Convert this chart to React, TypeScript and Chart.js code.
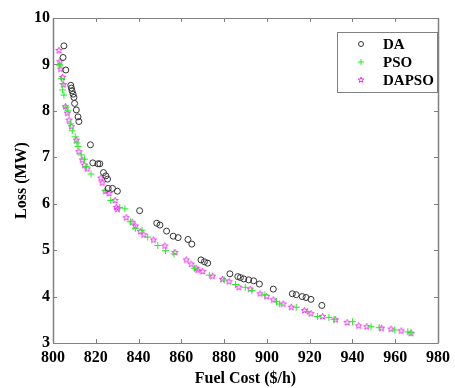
import React, { useEffect, useRef } from "react";
import { Chart, registerables } from "chart.js";

Chart.register(...registerables);

const X_TICKS = [800, 820, 840, 860, 880, 900, 920, 940, 960, 980];
const Y_TICKS = [3, 4, 5, 6, 7, 8, 9, 10];

const daCost = [805.1, 804.7, 806.0, 808.3, 808.6, 808.9, 809.4, 809.8, 810.1, 810.9, 811.7, 812.1, 817.5, 818.6, 821.0, 821.9, 823.6, 824.7, 825.5, 825.8, 827.8, 830.1, 840.5, 848.5, 850.0, 853.1, 856.2, 858.5, 863.1, 864.9, 869.2, 870.8, 872.3, 882.7, 886.4, 887.6, 889.2, 891.5, 893.8, 896.5, 903.0, 911.9, 913.7, 916.5, 918.3, 920.6, 925.7];
const daLoss = [9.40, 9.15, 8.88, 8.55, 8.49, 8.43, 8.36, 8.29, 8.16, 8.02, 7.87, 7.77, 7.27, 6.88, 6.86, 6.86, 6.67, 6.60, 6.53, 6.33, 6.33, 6.27, 5.85, 5.58, 5.54, 5.41, 5.30, 5.27, 5.23, 5.13, 4.79, 4.75, 4.72, 4.49, 4.43, 4.41, 4.38, 4.36, 4.34, 4.27, 4.16, 4.06, 4.04, 4.00, 3.98, 3.94, 3.81];

const psoCost = [802.9, 803.2, 804.0, 804.7, 804.5, 805.1, 806.0, 807.0, 808.1, 809.0, 810.4, 811.2, 811.7, 813.2, 814.7, 815.5, 817.8, 824.4, 827.0, 831.2, 833.6, 836.2, 838.5, 841.6, 844.3, 849.0, 852.6, 856.6, 866.2, 873.1, 880.0, 885.3, 889.9, 893.0, 899.1, 904.5, 906.0, 913.7, 919.1, 923.7, 929.0, 931.4, 940.0, 948.7, 952.5, 959.8, 965.9, 967.4];
const psoLoss = [9.00, 8.97, 8.70, 8.59, 8.45, 8.34, 8.08, 8.00, 7.72, 7.57, 7.44, 7.31, 7.23, 7.05, 6.96, 6.80, 6.64, 6.28, 6.07, 5.92, 5.89, 5.61, 5.47, 5.43, 5.28, 5.10, 4.99, 4.92, 4.61, 4.46, 4.36, 4.26, 4.20, 4.13, 4.04, 3.89, 3.84, 3.77, 3.68, 3.57, 3.55, 3.51, 3.46, 3.35, 3.33, 3.28, 3.24, 3.22];

const dapsoCost = [802.8, 803.2, 803.6, 804.5, 804.8, 805.8, 806.7, 807.5, 808.6, 810.9, 812.1, 813.7, 814.7, 816.0, 822.4, 823.0, 824.4, 826.2, 829.0, 829.6, 830.1, 834.2, 837.0, 838.5, 840.8, 842.4, 847.0, 852.3, 857.0, 862.3, 864.6, 866.9, 867.7, 870.0, 874.6, 879.2, 882.3, 886.9, 892.2, 896.8, 899.9, 903.0, 907.6, 911.4, 917.5, 920.6, 926.0, 932.1, 937.5, 942.9, 946.7, 953.6, 958.0, 962.8, 967.4];
const dapsoLoss = [9.30, 9.06, 8.90, 8.72, 8.56, 8.09, 7.95, 7.80, 7.66, 7.37, 7.12, 6.94, 6.83, 6.75, 6.55, 6.45, 6.27, 6.22, 6.07, 5.92, 5.88, 5.70, 5.60, 5.52, 5.40, 5.33, 5.22, 5.09, 4.95, 4.79, 4.70, 4.61, 4.57, 4.54, 4.44, 4.37, 4.32, 4.20, 4.16, 4.06, 4.00, 3.93, 3.84, 3.77, 3.70, 3.63, 3.57, 3.50, 3.44, 3.37, 3.35, 3.32, 3.30, 3.26, 3.21];

const SERIES_NAMES = ["DA", "PSO", "DAPSO"];
const DA_COLOR = "#333333";
const PSO_COLOR = "#22ee22";
const DAPSO_COLOR = "#ee33ee";
const AXIS_COLOR = "#808080";
const FONT = "'Liberation Serif', 'Times New Roman', serif";

function makeStar(color: string, r: number, lw: number) {
  const s = Math.ceil(2 * r + 2 * lw + 2);
  const c = document.createElement("canvas");
  c.width = s;
  c.height = s;
  const g = c.getContext("2d")!;
  g.strokeStyle = color;
  g.lineWidth = lw;
  g.beginPath();
  for (let i = 0; i < 10; i++) {
    const a = -Math.PI / 2 + (i * Math.PI) / 5;
    const rr = i % 2 === 0 ? r : r * 0.42;
    const px = s / 2 + rr * Math.cos(a);
    const py = s / 2 + rr * Math.sin(a);
    if (i === 0) g.moveTo(px, py);
    else g.lineTo(px, py);
  }
  g.closePath();
  g.stroke();
  return c;
}

const toPoints = (xs: number[], ys: number[]) => xs.map((x, i) => ({ x, y: ys[i] }));

export default function App() {
  const ref = useRef<HTMLCanvasElement>(null);
  useEffect(() => {
    if (!ref.current) return;
    const star = makeStar(DAPSO_COLOR, 3.3, 1);
    const starSmall = makeStar(DAPSO_COLOR, 3, 1);

    const framePlugin = {
      id: "frame",
      afterDatasetsDraw(chart: any) {
        const { ctx, chartArea, scales } = chart;
        const { left, right, top, bottom } = chartArea;
        const x = scales.x;
        const y = scales.y;
        ctx.save();
        ctx.strokeStyle = AXIS_COLOR;
        ctx.lineWidth = 1;
        ctx.beginPath();
        ctx.rect(Math.round(left) + 0.5, Math.round(top) + 0.5, Math.round(right - left), Math.round(bottom - top));
        const tl = 4;
        X_TICKS.forEach((v) => {
          const px = Math.round(x.getPixelForValue(v)) + 0.5;
          ctx.moveTo(px, bottom);
          ctx.lineTo(px, bottom - tl);
          ctx.moveTo(px, top);
          ctx.lineTo(px, top + tl);
        });
        Y_TICKS.forEach((v) => {
          const py = Math.round(y.getPixelForValue(v)) + 0.5;
          ctx.moveTo(left, py);
          ctx.lineTo(left + tl, py);
          ctx.moveTo(right, py);
          ctx.lineTo(right - tl, py);
        });
        ctx.stroke();
        // side axes slightly heavier
        ctx.beginPath();
        ctx.lineWidth = 1.5;
        ctx.moveTo(Math.round(left) + 0.5, top);
        ctx.lineTo(Math.round(left) + 0.5, bottom);
        ctx.moveTo(Math.round(right) + 0.5, top);
        ctx.lineTo(Math.round(right) + 0.5, bottom);
        ctx.stroke();

        // legend box
        const bx = 337, by = 32, bw = 100, bh = 60;
        ctx.fillStyle = "#ffffff";
        ctx.fillRect(bx, by, bw, bh);
        ctx.strokeStyle = AXIS_COLOR;
        ctx.lineWidth = 1;
        ctx.strokeRect(bx + 0.5, by + 0.5, bw, bh);
        const mx = 361;
        const rows = [44, 62, 80];
        // DA marker
        ctx.strokeStyle = DA_COLOR;
        ctx.beginPath();
        ctx.arc(mx, rows[0], 2.5, 0, Math.PI * 2);
        ctx.stroke();
        // PSO marker
        ctx.strokeStyle = PSO_COLOR;
        ctx.beginPath();
        ctx.moveTo(mx - 3, rows[1]);
        ctx.lineTo(mx + 3, rows[1]);
        ctx.moveTo(mx, rows[1] - 3);
        ctx.lineTo(mx, rows[1] + 3);
        ctx.stroke();
        // DAPSO marker
        ctx.drawImage(starSmall, mx - starSmall.width / 2, rows[2] - starSmall.height / 2);
        ctx.fillStyle = "#000";
        ctx.font = `bold 15px ${FONT}`;
        ctx.textBaseline = "middle";
        ctx.textAlign = "left";
        SERIES_NAMES.forEach((n, i) => ctx.fillText(n, 383, rows[i] + 1));
        ctx.restore();
      },
    };

    const chart = new Chart(ref.current, {
      type: "scatter",
      data: {
        datasets: [
          {
            label: SERIES_NAMES[0],
            data: toPoints(daCost, daLoss),
            pointStyle: "circle",
            pointRadius: 3,
            borderColor: DA_COLOR,
            backgroundColor: "rgba(0,0,0,0)",
            borderWidth: 1,
          },
          {
            label: SERIES_NAMES[1],
            data: toPoints(psoCost, psoLoss),
            pointStyle: "cross",
            pointRadius: 3.5,
            borderColor: PSO_COLOR,
            backgroundColor: PSO_COLOR,
            borderWidth: 1,
          },
          {
            label: SERIES_NAMES[2],
            data: toPoints(dapsoCost, dapsoLoss),
            pointStyle: star as any,
            pointRadius: 3.3,
            borderColor: DAPSO_COLOR,
            backgroundColor: "rgba(0,0,0,0)",
            borderWidth: 1,
          },
        ],
      },
      options: {
        animation: false,
        responsive: false,
        maintainAspectRatio: false,
        layout: { padding: { left: 0, top: 18, right: 11, bottom: 0 } },
        plugins: { legend: { display: false }, tooltip: { enabled: false } },
        scales: {
          x: {
            type: "linear",
            min: X_TICKS[0],
            max: X_TICKS[X_TICKS.length - 1],
            afterBuildTicks: (s: any) => {
              s.ticks = X_TICKS.map((v) => ({ value: v }));
            },
            afterFit: (s: any) => {
              s.height = 45;
            },
            grid: { display: false, drawTicks: false },
            border: { display: false },
            ticks: {
              color: "#000",
              padding: 5,
              maxRotation: 0,
              autoSkip: false,
              font: { family: FONT, size: 16, weight: "bold" },
            },
            title: {
              display: true,
              text: "Fuel Cost ($/h)",
              color: "#000",
              padding: { top: 0, bottom: 0 },
              font: { family: FONT, size: 16, weight: "bold" },
            },
          },
          y: {
            type: "linear",
            min: Y_TICKS[0],
            max: Y_TICKS[Y_TICKS.length - 1],
            afterBuildTicks: (s: any) => {
              s.ticks = Y_TICKS.map((v) => ({ value: v }));
            },
            afterFit: (s: any) => {
              s.width = 53;
            },
            grid: { display: false, drawTicks: false },
            border: { display: false },
            ticks: {
              color: "#000",
              padding: 3,
              autoSkip: false,
              font: { family: FONT, size: 16, weight: "bold" },
            },
            title: {
              display: true,
              text: "Loss (MW)",
              color: "#000",
              padding: { top: 12, bottom: 0 },
              font: { family: FONT, size: 16, weight: "bold" },
            },
          },
        },
      },
      plugins: [framePlugin],
    } as any);
    return () => chart.destroy();
  }, []);

  return (
    <div style={{ position: "fixed", left: 0, top: 0, width: 455, height: 388, background: "#fff" }}>
      <canvas ref={ref} width={455} height={388} style={{ display: "block" }} />
    </div>
  );
}
